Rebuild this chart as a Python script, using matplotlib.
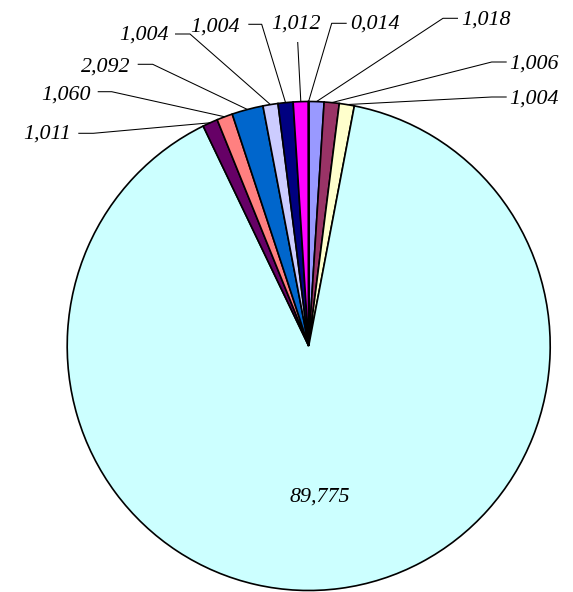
import matplotlib
matplotlib.use('Agg')
import matplotlib.pyplot as plt
import numpy as np

# Data (clockwise from 12 o'clock)
values = [1.018, 1.006, 1.004, 89.775, 1.011, 1.060, 2.092, 1.004, 1.004, 1.012, 0.014]
labels = ['1,018', '1,006', '1,004', '89,775', '1,011', '1,060', '2,092',
          '1,004', '1,004', '1,012', '0,014']
colors = ['#9999FF', '#993366', '#FFFFCC', '#CCFFFF', '#660066', '#FF8080',
          '#0066CC', '#CCCCFF', '#000080', '#FF00FF', '#FFFF00']

W, H = 573, 592
fig = plt.figure(figsize=(W / 100, H / 100), dpi=100)
ax = fig.add_axes([0, 0, 1, 1])

CX, CY, RX, RY = 308.7, 346.0, 241.5, 244.5


def d(px, py):
    return ((px - CX) / RX, (CY - py) / RY)


wedges, _ = ax.pie(values, colors=colors, startangle=90, counterclock=False,
                   radius=1.0, wedgeprops=dict(edgecolor='black', linewidth=1.2))
ax.set_aspect('auto')
ax.set_xlim(d(0, 0)[0], d(W, 0)[0])
ax.set_ylim(d(0, H)[1], d(0, 0)[1])
ax.axis('off')

# label layout (pixel positions): text x, baseline y, ha, seg outer x, seg inner x, seg y
layout = [
    (461.7, 25.0, 'left', 458.0, 443.0, 18.3),
    (509.0, 68.3, 'left', 506.7, 491.7, 62.0),
    (509.0, 103.3, 'left', 506.7, 491.7, 97.0),
    (320.0, 501.7, 'center', None, None, None),
    (71.0, 138.7, 'right', 78.3, 93.3, 133.3),
    (90.7, 99.3, 'right', 97.7, 111.7, 91.7),
    (130.0, 71.7, 'right', 137.7, 152.7, 64.3),
    (169.0, 40.0, 'right', 175.0, 190.0, 34.0),
    (240.0, 31.7, 'right', 248.3, 261.7, 24.3),
    (296.0, 28.3, 'center', 297.7, 297.7, 42.0),
    (350.0, 28.3, 'left', 346.7, 331.7, 23.3),
]

font = dict(family='Liberation Serif', style='italic', size=15.8, color='black')

for w, lab, lay in zip(wedges, labels, layout):
    tx, ty, ha, so, si, sy = lay
    x, y = d(tx, ty)
    ax.text(x, y, lab, ha=ha, va='baseline', **font)
    if so is None:
        continue
    th = np.deg2rad((w.theta1 + w.theta2) / 2)
    axp, ayp = np.cos(th), np.sin(th)
    p1 = d(so, sy)
    p2 = d(si, sy)
    ax.plot([p1[0], p2[0], axp], [p1[1], p2[1], ayp], color='black',
            linewidth=0.75, solid_capstyle='butt')

fig.savefig('out.png', dpi=100)
